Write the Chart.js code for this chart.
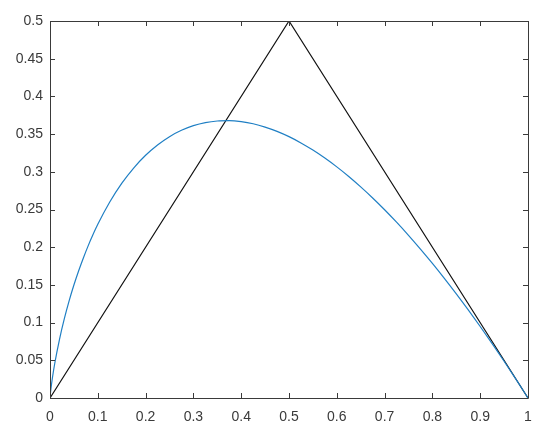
<!DOCTYPE html>
<html>
<head>
<meta charset="utf-8">
<script src="https://cdn.jsdelivr.net/npm/chart.js@4/dist/chart.umd.min.js"></script>
<style>
  html, body { margin: 0; padding: 0; background: #fff; }
  #wrap { width: 550px; height: 439px; }
</style>
</head>
<body>
<div id="wrap"><canvas id="plot" width="550" height="439"></canvas></div>
<script>
// values
const curveX = [0, 0.001, 0.002, 0.005, 0.01, 0.02, 0.03, 0.04, 0.05, 0.06, 0.07, 0.08, 0.09,
  0.1, 0.125, 0.15, 0.175, 0.2, 0.225, 0.25, 0.275, 0.3, 0.325, 0.35, 0.375, 0.4, 0.425, 0.45, 0.475,
  0.5, 0.525, 0.55, 0.575, 0.6, 0.625, 0.65, 0.675, 0.7, 0.725, 0.75, 0.775, 0.8, 0.825, 0.85, 0.875,
  0.9, 0.925, 0.95, 0.975, 1];
const curveY = [0, 0.0069, 0.0124, 0.0265, 0.0461, 0.0782, 0.1052, 0.1288, 0.1498, 0.1688, 0.1861, 0.2021, 0.2167,
  0.2303, 0.2599, 0.2846, 0.3050, 0.3219, 0.3356, 0.3466, 0.3550, 0.3612, 0.3653, 0.3674, 0.3678, 0.3665, 0.3637, 0.3593, 0.3536,
  0.3466, 0.3383, 0.3288, 0.3182, 0.3065, 0.2938, 0.2800, 0.2653, 0.2497, 0.2332, 0.2158, 0.1975, 0.1785, 0.1587, 0.1381, 0.1168,
  0.0948, 0.0721, 0.0487, 0.0247, 0];
const triX = [0, 0.5, 1];
const triY = [0, 0.5, 0];
const xTicks = [0, 0.1, 0.2, 0.3, 0.4, 0.5, 0.6, 0.7, 0.8, 0.9, 1];
const yTicks = [0, 0.05, 0.1, 0.15, 0.2, 0.25, 0.3, 0.35, 0.4, 0.45, 0.5];

const axisColor = "#3a3a3a";
const pts = (xs, ys) => xs.map((x, i) => ({ x: x, y: ys[i] }));

// box around the plot with ticks pointing inward, like the original
const boxTicks = {
  id: "boxTicks",
  afterDraw(chart) {
    const { ctx, chartArea: a, scales } = chart;
    const len = 5;
    ctx.save();
    ctx.strokeStyle = axisColor;
    ctx.lineWidth = 1;
    ctx.beginPath();
    ctx.rect(Math.round(a.left) + 0.5, Math.round(a.top) + 0.5,
             Math.round(a.right - a.left), Math.round(a.bottom - a.top));
    xTicks.forEach(v => {
      const px = Math.round(scales.x.getPixelForValue(v)) + 0.5;
      ctx.moveTo(px, a.bottom); ctx.lineTo(px, a.bottom - len);
      ctx.moveTo(px, a.top); ctx.lineTo(px, a.top + len);
    });
    yTicks.forEach(v => {
      const py = Math.round(scales.y.getPixelForValue(v)) + 0.5;
      ctx.moveTo(a.left, py); ctx.lineTo(a.left + len, py);
      ctx.moveTo(a.right, py); ctx.lineTo(a.right - len, py);
    });
    ctx.stroke();
    ctx.restore();
  }
};

const fmt = v => String(Number(v.toFixed(2)));
const tickFont = { family: "'Liberation Sans', Arial, sans-serif", size: 14 };

new Chart(document.getElementById("plot"), {
  type: "scatter",
  data: {
    datasets: [
      {
        data: pts(curveX, curveY),
        showLine: true,
        borderColor: "#1f7fc4",
        borderWidth: 1.2,
        pointRadius: 0,
        cubicInterpolationMode: "monotone",
      },
      {
        data: pts(triX, triY),
        showLine: true,
        borderColor: "#111111",
        borderWidth: 1.2,
        pointRadius: 0,
      },
    ],
  },
  options: {
    responsive: false,
    animation: false,
    layout: { padding: { top: 21, right: 22, left: 0, bottom: 0 } },
    plugins: { legend: { display: false }, tooltip: { enabled: false } },
    scales: {
      x: {
        type: "linear",
        min: 0, max: 1,
        afterBuildTicks: s => { s.ticks = xTicks.map(v => ({ value: v })); },
        afterFit: s => { s.height = 41; },
        grid: { display: false, drawTicks: false },
        border: { display: false },
        ticks: {
          padding: 11, maxRotation: 0, autoSkip: false,
          color: axisColor, font: tickFont, callback: fmt,
        },
      },
      y: {
        type: "linear",
        min: 0, max: 0.5,
        afterBuildTicks: s => { s.ticks = yTicks.map(v => ({ value: v })); },
        afterFit: s => { s.width = 50; },
        grid: { display: false, drawTicks: false },
        border: { display: false },
        ticks: {
          padding: 7, autoSkip: false,
          color: axisColor, font: tickFont, callback: fmt,
        },
      },
    },
  },
  plugins: [boxTicks],
});
</script>
</body>
</html>
